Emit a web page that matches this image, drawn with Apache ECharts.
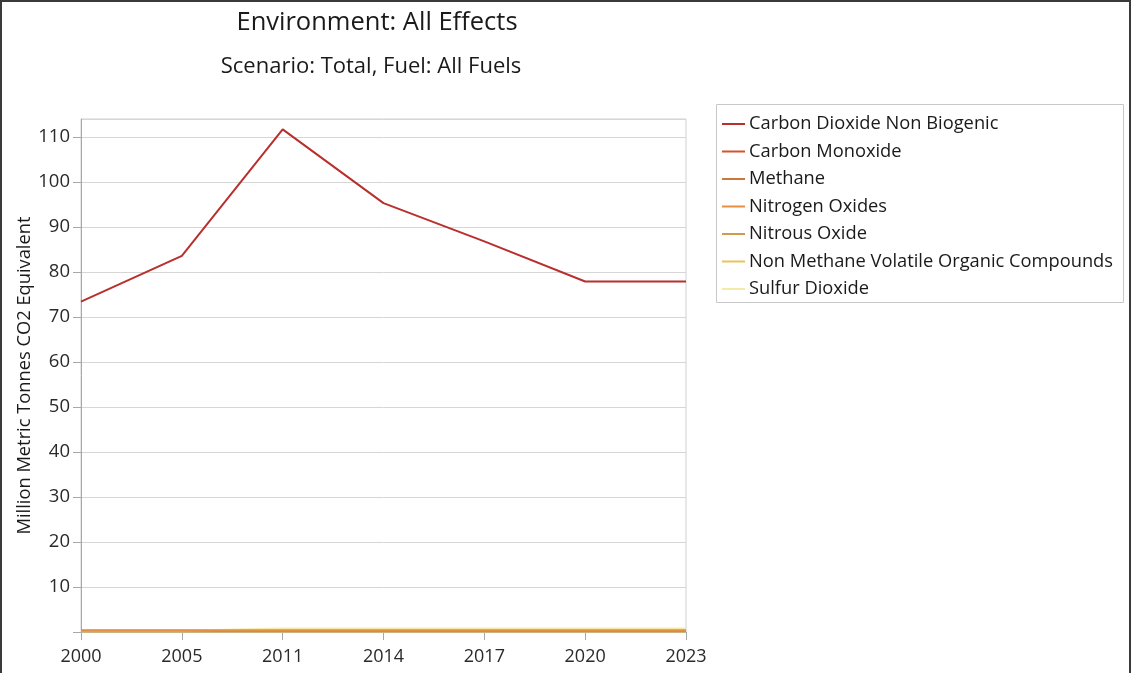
<!DOCTYPE html>
<html>
<head>
<meta charset="utf-8">
<script src="https://cdn.jsdelivr.net/npm/echarts@6/dist/echarts.min.js"></script>
<style>
  html, body { margin: 0; padding: 0; background: #fff; }
  #frame { position: absolute; left: 0; top: 0; width: 1131px; height: 673px; box-sizing: border-box;
           border-left: 2px solid #3a3a3a; border-top: 2px solid #3a3a3a; border-right: 2px solid #3a3a3a; }
  #chart { position: absolute; left: 0; top: 0; width: 1131px; height: 673px; }
</style>
</head>
<body>
<div id="frame"></div>
<div id="chart"></div>
<script>
// Years on the horizontal axis (evenly spaced categories)
const years = ['2000', '2005', '2011', '2014', '2017', '2020', '2023'];

// Emissions per effect, million metric tonnes CO2 equivalent
const carbonDioxideNonBiogenic = [73.4, 83.6, 111.7, 95.3, 86.8, 77.9, 77.9];
const carbonMonoxide = [0.25, 0.25, 0.25, 0.25, 0.25, 0.25, 0.25];
const methane = [0.3, 0.3, 0.3, 0.3, 0.3, 0.3, 0.3];
const nitrogenOxides = [0.35, 0.35, 0.35, 0.35, 0.35, 0.35, 0.35];
const nitrousOxide = [0.2, 0.2, 0.2, 0.2, 0.2, 0.2, 0.2];
const nonMethaneVOC = [0.1, 0.1, 0.1, 0.1, 0.1, 0.1, 0.1];
const sulfurDioxide = [0.3, 0.3, 0.8, 0.8, 0.8, 0.8, 0.8];

const seriesNames = ['Carbon Dioxide Non Biogenic', 'Carbon Monoxide', 'Methane', 'Nitrogen Oxides',
                     'Nitrous Oxide', 'Non Methane Volatile Organic Compounds', 'Sulfur Dioxide'];
const seriesValues = [carbonDioxideNonBiogenic, carbonMonoxide, methane, nitrogenOxides,
                      nitrousOxide, nonMethaneVOC, sulfurDioxide];
const seriesColors = ['#b8302c', '#d8502e', '#c9783e', '#e58f45', '#d39a4c', '#e8c25a', '#f5eba8'];
// drawing order of the lines (higher draws on top) and their widths
const seriesZ = [10, 4, 5, 8, 3, 2, 6];
const seriesWidths = [2, 2, 2, 2.5, 2, 2, 2];

const FONT = '"Open Sans", "Noto Sans", sans-serif';

const chart = echarts.init(document.getElementById('chart'), null, { renderer: 'canvas' });

chart.setOption({
  backgroundColor: 'transparent',
  animation: false,
  title: [
    { text: 'Environment: All Effects', left: 372, top: 5, textAlign: 'center',
      textStyle: { fontFamily: FONT, fontSize: 25.5, fontWeight: 'normal', color: '#1a1a1a' } },
    { text: 'Scenario: Total, Fuel: All Fuels', left: 366, top: 51, textAlign: 'center',
      textStyle: { fontFamily: FONT, fontSize: 22, fontWeight: 'normal', color: '#1a1a1a' } }
  ],
  graphic: [
    { type: 'rect', left: 716, top: 104, shape: { width: 407, height: 198 },
      style: { fill: '#fff', stroke: '#c8c8c8', lineWidth: 1 }, z: -1 }
  ],
  legend: {
    orient: 'vertical',
    left: 716,
    top: 105,
    padding: [9, 6, 9, 6],
    icon: 'rect',
    itemWidth: 23,
    itemHeight: 2,
    itemGap: 7.5,
    textStyle: { fontFamily: FONT, fontSize: 18.3, color: '#1a1a1a', lineHeight: 20, padding: [0, 0, 0, -1] },
    data: seriesNames
  },
  grid: { left: 81, right: 445, top: 119, bottom: 41, show: true, borderColor: '#d0d0d0', borderWidth: 1 },
  xAxis: {
    type: 'category',
    data: years,
    boundaryGap: false,
    axisLine: { lineStyle: { color: '#a8a8a8', width: 1 } },
    axisTick: { alignWithLabel: true, length: 8, lineStyle: { color: '#a8a8a8' } },
    axisLabel: { fontFamily: FONT, fontSize: 18, color: '#2a2a2a', margin: 16 },
    splitLine: { show: false }
  },
  yAxis: {
    type: 'value',
    min: 0,
    max: 114,
    interval: 10,
    name: 'Million Metric Tonnes CO2 Equivalent',
    nameLocation: 'middle',
    nameGap: 47,
    nameMoveOverlap: false,
    nameTextStyle: { fontFamily: FONT, fontSize: 18.3, color: '#1a1a1a' },
    axisLine: { show: true, lineStyle: { color: '#a8a8a8', width: 1 } },
    axisTick: { show: true, length: 8, lineStyle: { color: '#a8a8a8' } },
    axisLabel: { fontFamily: FONT, fontSize: 18.5, color: '#2a2a2a', margin: 11,
                 showMaxLabel: false,
                 formatter: v => (v === 0 || v % 10 !== 0 ? '' : String(v)) },
    splitLine: { lineStyle: { color: '#d6d6d6', width: 1 } }
  },
  series: seriesNames.map((name, i) => ({
    name: name,
    type: 'line',
    data: seriesValues[i],
    symbol: 'none',
    lineStyle: { color: seriesColors[i], width: seriesWidths[i] },
    itemStyle: { color: seriesColors[i] },
    z: seriesZ[i]
  }))
});
</script>
</body>
</html>
